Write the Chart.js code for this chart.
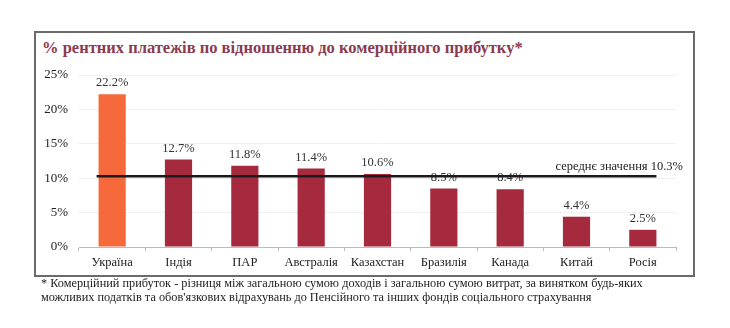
<!DOCTYPE html>
<html>
<head>
<meta charset="utf-8">
<script src="https://cdn.jsdelivr.net/npm/chart.js@4"></script>
<style>
    body { margin: 0; background: #fff; }
    #wrap { position: relative; width: 730px; height: 328px; }
    #frame { position: absolute; left: 34px; top: 31px; width: 657px; height: 242px; border: 2px solid #6a6a6a; }
    #title { position: absolute; left: 42px; top: 38px; font: bold 16.5px 'Liberation Serif', serif; color: #8b3a4f; }
    #note { position: absolute; left: 41px; top: 276px; font: 12.3px 'Liberation Serif', serif; color: #222; line-height: 14px; }
    canvas { position: absolute; left: 0; top: 0; }
</style>
</head>
<body>
<div id="wrap">
    <div id="frame"></div>
    <div id="title">% рентних платежів по відношенню до комерційного прибутку*</div>
    <canvas id="rentChart" width="730" height="328"></canvas>
    <div id="note">* Комерційний прибуток - різниця між загальною сумою доходів і загальною сумою витрат, за винятком будь-яких<br>можливих податків та обов'язкових відрахувань до Пенсійного та інших фондів соціального страхування</div>
</div>
<script>
// Дані
const countries = ['Україна', 'Індія', 'ПАР', 'Австралія', 'Казахстан', 'Бразилія', 'Канада', 'Китай', 'Росія'];
const rentShare = [22.2, 12.7, 11.8, 11.4, 10.6, 8.5, 8.4, 4.4, 2.5];
const averageValue = 10.3;
const averageLabel = 'середнє значення 10.3%';
const yTicks = [0, 5, 10, 15, 20, 25];

const barColors = countries.map((c, i) => i === 0 ? '#f5693a' : '#a52a3d');

// Підписи над стовпчиками + лінія середнього значення
const overlayPlugin = {
    id: 'overlay',
    afterDatasetsDraw(chart) {
        const ctx = chart.ctx;
        const meta = chart.getDatasetMeta(0);
        const y = chart.scales.y;

        ctx.save();
        ctx.font = '12.5px "Liberation Serif", serif';
        ctx.fillStyle = '#333';
        ctx.textAlign = 'center';
        ctx.textBaseline = 'bottom';
        meta.data.forEach((bar, i) => {
            ctx.fillText(rentShare[i].toFixed(1) + '%', bar.x, bar.y - 5);
        });

        const first = meta.data[0];
        const last = meta.data[meta.data.length - 1];
        const yAvg = y.getPixelForValue(averageValue);
        ctx.strokeStyle = '#1a1a1a';
        ctx.lineWidth = 2.5;
        ctx.beginPath();
        ctx.moveTo(first.x - first.width / 2 - 2, yAvg);
        ctx.lineTo(last.x + last.width / 2, yAvg);
        ctx.stroke();

        ctx.textAlign = 'right';
        ctx.textBaseline = 'bottom';
        ctx.fillStyle = '#222';
        ctx.fillText(averageLabel, 683, yAvg - 3);
        ctx.restore();
    }
};

new Chart(document.getElementById('rentChart').getContext('2d'), {
    type: 'bar',
    data: {
        labels: countries,
        datasets: [{
            data: rentShare,
            backgroundColor: barColors,
            barPercentage: 0.41,
            categoryPercentage: 1
        }]
    },
    options: {
        responsive: false,
        animation: false,
        layout: { padding: { left: 34, right: 54, top: 75, bottom: 56 } },
        plugins: { legend: { display: false }, tooltip: { enabled: false } },
        scales: {
            x: {
                afterFit: (s) => { s.height = 25; },
                grid: { offset: true, drawOnChartArea: false, tickLength: 4, color: '#bbb' },
                border: { color: '#bbb' },
                ticks: { color: '#222', padding: 4, font: { family: 'Liberation Serif', size: 12.5 } }
            },
            y: {
                min: 0,
                max: 25,
                afterFit: (s) => { s.width = 45; },
                afterBuildTicks: (s) => { s.ticks = yTicks.map(v => ({ value: v })); },
                grid: { color: '#f0f0f0', drawTicks: false },
                border: { display: false },
                ticks: {
                    padding: 11,
                    color: '#222',
                    font: { family: 'Liberation Sans Narrow', size: 13 },
                    callback: (v) => v + '%'
                }
            }
        }
    },
    plugins: [overlayPlugin]
});
</script>
</body>
</html>
